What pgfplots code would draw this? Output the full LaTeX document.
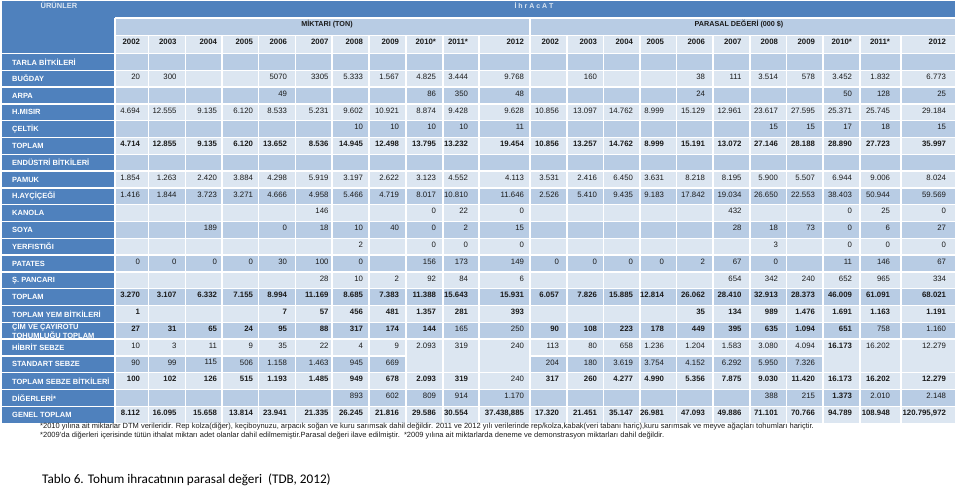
\documentclass[border=0pt]{standalone}
\usepackage{pgfplots}
\pgfplotsset{compat=1.18}
\usepackage{pgfplotstable}
\usepackage{fontspec}
\setmainfont{Liberation Sans}
\newfontfamily\calibri{Carlito}

\definecolor{dk}{HTML}{4F81BD}
\definecolor{md}{HTML}{B8CCE4}
\definecolor{lt}{HTML}{DCE6F1}
\definecolor{txt}{HTML}{1A1A1A}

\newcommand\fd{\fontsize{7.8}{9}\selectfont}
\newcommand\fb{\fontsize{7.8}{9}\selectfont\bfseries}
\newcommand\fl{\fontsize{7.5}{8}\selectfont\bfseries}

\pgfplotsset{celltxt/.style={draw=none, mark=none, forget plot, nodes near coords,
  point meta=explicit symbolic,
  nodes near coords style={anchor=east, inner sep=0pt, outer sep=0pt, text depth=0pt, text=txt, font=#1}}}

\newcommand\bx[5]{\addplot[fill=#5, draw=none, forget plot] coordinates {(#1,#2) (#3,#2) (#3,#4) (#1,#4)};}
\newcommand\hl[3]{\addplot[white, line width=1.3pt, forget plot] coordinates {(#1,#3) (#2,#3)};}
\newcommand\vl[3]{\addplot[white, line width=1.3pt, forget plot] coordinates {(#1,#2) (#1,#3)};}

% full rows: x = right edge of the cell text (px)
\pgfplotstableread{
x     yr    r4     r6     r8    r9     r15    r22
140   2002  4.694  4.714  1.854 1.416  3.270  8.112
176.5 2003  12.555 12.855 1.263 1.844  3.107  16.095
217   2004  9.135  9.135  2.420 3.723  6.332  15.658
253   2005  6.120  6.120  3.884 3.271  7.155  13.814
287   2006  8.533  13.652 4.298 4.666  8.994  23.941
328.5 2007  5.231  8.536  5.919 4.958  11.169 21.335
363   2008  9.602  14.945 3.197 5.466  8.685  26.245
399   2009  10.921 12.498 2.622 4.719  7.383  21.816
436   2010* 8.874  13.795 3.123 8.017  11.388 29.586
468   2011* 9.428  13.232 4.552 10.810 15.643 30.554
524   2012  9.628  19.454 4.113 11.646 15.931 37.438,885
559   2002  10.856 10.856 3.531 2.526  6.057  17.320
597   2003  13.097 13.257 2.416 5.410  7.826  21.451
633   2004  14.762 14.762 6.450 9.435  15.885 35.147
664   2005  8.999  8.999  3.631 9.183  12.814 26.981
705   2006  15.129 15.191 8.218 17.842 26.062 47.093
741.5 2007  12.961 13.072 8.195 19.034 28.410 49.886
778   2008  23.617 27.146 5.900 26.650 32.913 71.101
815   2009  27.595 28.188 5.507 22.553 28.373 70.766
852   2010* 25.371 28.890 6.944 38.403 46.009 94.789
890   2011* 25.745 27.723 9.006 50.944 61.091 108.948
946   2012  29.184 35.997 8.024 59.569 68.021 120.795,972
}\full

\pgfplotstableread{
x r v
140 2 20
176.5 2 300
287 2 5070
328.5 2 3305
363 2 5.333
399 2 1.567
436 2 4.825
468 2 3.444
524 2 9.768
597 2 160
705 2 38
741.5 2 111
778 2 3.514
815 2 578
852 2 3.452
890 2 1.832
946 2 6.773
287 3 49
436 3 86
468 3 350
524 3 48
705 3 24
852 3 50
890 3 128
946 3 25
363 5 10
399 5 10
436 5 10
468 5 10
524 5 11
778 5 15
815 5 15
852 5 17
890 5 18
946 5 15
328.5 10 146
436 10 0
468 10 22
524 10 0
741.5 10 432
852 10 0
890 10 25
946 10 0
217 11 189
287 11 0
328.5 11 18
363 11 10
399 11 40
436 11 0
468 11 2
524 11 15
741.5 11 28
778 11 18
815 11 73
852 11 0
890 11 6
946 11 27
363 12 2
436 12 0
468 12 0
524 12 0
778 12 3
852 12 0
890 12 0
946 12 0
140 13 0
176.5 13 0
217 13 0
253 13 0
287 13 30
328.5 13 100
363 13 0
436 13 156
468 13 173
524 13 149
559 13 0
597 13 0
633 13 0
664 13 0
705 13 2
741.5 13 67
778 13 0
852 13 11
890 13 146
946 13 67
328.5 14 28
363 14 10
399 14 2
436 14 92
468 14 84
524 14 6
741.5 14 654
778 14 342
815 14 240
852 14 652
890 14 965
946 14 334
468 17 165
524 17 250
890 17 758
946 17 1.160
140 18 10
176.5 18 3
217 18 11
253 18 9
287 18 35
328.5 18 22
363 18 4
399 18 9
436 18 2.093
468 18 319
524 18 240
559 18 113
597 18 80
633 18 658
664 18 1.236
705 18 1.204
741.5 18 1.583
778 18 3.080
815 18 4.094
890 18 16.202
946 18 12.279
140 19 90
176.5 19 99
217 19 115
253 19 506
287 19 1.158
328.5 19 1.463
363 19 945
399 19 669
559 19 204
597 19 180
633 19 3.619
664 19 3.754
705 19 4.152
741.5 19 6.292
778 19 5.950
815 19 7.326
524 20 240
363 21 893
399 21 602
436 21 809
468 21 914
524 21 1.170
778 21 388
815 21 215
890 21 2.010
946 21 2.148
}\partreg

\pgfplotstableread{
x r v
140 16 1
287 16 7
328.5 16 57
363 16 456
399 16 481
436 16 1.357
468 16 281
524 16 393
705 16 35
741.5 16 134
778 16 989
815 16 1.476
852 16 1.691
890 16 1.163
946 16 1.191
140 17 27
176.5 17 31
217 17 65
253 17 24
287 17 95
328.5 17 88
363 17 317
399 17 174
436 17 144
559 17 90
597 17 108
633 17 223
664 17 178
705 17 449
741.5 17 395
778 17 635
815 17 1.094
852 17 651
852 18 16.173
140 20 100
176.5 20 102
217 20 126
253 20 515
287 20 1.193
328.5 20 1.485
363 20 949
399 20 678
436 20 2.093
468 20 319
559 20 317
597 20 260
633 20 4.277
664 20 4.990
705 20 5.356
741.5 20 7.875
778 20 9.030
815 20 11.420
852 20 16.173
890 20 16.202
946 20 12.279
852 21 1.373
}\partbold

\begin{document}
\begin{tikzpicture}
\begin{axis}[width=960pt, height=492pt, scale only axis, xmin=0, xmax=960, ymin=0, ymax=492,
  y dir=reverse, hide axis, clip=false, enlargelimits=false]
% backgrounds
\bx{115}{18}{955}{423.1}{lt}
\bx{115}{18}{955}{35.5}{md}
\bx{2}{1}{955}{18}{dk}
\bx{2}{1}{115}{423.1}{dk}
\bx{115}{53.5}{955}{70.3}{md}
\bx{115}{87.1}{955}{103.9}{md}
\bx{115}{120.7}{955}{137.5}{md}
\bx{115}{154.3}{955}{171.1}{md}
\bx{115}{187.9}{955}{204.7}{md}
\bx{115}{221.5}{955}{238.3}{md}
\bx{115}{255.1}{955}{271.9}{md}
\bx{115}{288.7}{955}{305.5}{md}
\bx{115}{322.3}{955}{339.1}{md}
\bx{115}{355.9}{955}{372.7}{md}
\bx{115}{389.5}{955}{406.3}{md}
\bx{406}{339.1}{530}{372.7}{lt}
\bx{823}{339.1}{955}{372.7}{lt}
% grid lines
\hl{115}{955}{18}
\hl{115}{955}{35.5}
\pgfplotsinvokeforeach{53.5,70.3,87.1,103.9,120.7,137.5,154.3,171.1,187.9,204.7,221.5,238.3,255.1,271.9,288.7,305.5,322.3,339.1,372.7,389.5,406.3}{\hl{2}{955}{#1}}
\hl{2}{406}{355.9}
\hl{530}{823}{355.9}
\vl{115}{18}{423.1}
\vl{530}{18}{423.1}
\pgfplotsinvokeforeach{148.5,185.5,222,258.5,295.5,332,369,406,443,479,567,603.5,640,676.5,713,750,786.5,823,860,901}{\vl{#1}{35.5}{423.1}}
% numbers
\addplot[celltxt=\fb] table[x=x, y expr=42, meta=yr] {\full};
\addplot[celltxt=\fd] table[x=x, y expr=110.3, meta=r4] {\full};
\addplot[celltxt=\fb] table[x=x, y expr=143.9, meta=r6] {\full};
\addplot[celltxt=\fd] table[x=x, y expr=177.5, meta=r8] {\full};
\addplot[celltxt=\fd] table[x=x, y expr=194.3, meta=r9] {\full};
\addplot[celltxt=\fb] table[x=x, y expr=295.1, meta=r15] {\full};
\addplot[celltxt=\fb] table[x=x, y expr=412.7, meta=r22] {\full};
\addplot[celltxt=\fd] table[x=x, y expr={53.5+16.8*(\thisrow{r}-0.5)-2}, meta=v] {\partreg};
\addplot[celltxt=\fb] table[x=x, y expr={53.5+16.8*(\thisrow{r}-0.5)-2}, meta=v] {\partbold};
% header texts
\node[font=\fontsize{7.5}{8}\selectfont\bfseries, text=lt] at (axis cs:59,5) {ÜRÜNLER};
\node[font=\fontsize{7}{8}\selectfont\bfseries, text=lt] at (axis cs:534,5.5) {İ h r A c A T};
\node[font=\fontsize{7.2}{8}\selectfont\bfseries, text=txt] at (axis cs:327,24) {MİKTARI (TON)};
\node[font=\fontsize{7.2}{8}\selectfont\bfseries, text=txt] at (axis cs:739,24) {PARASAL DEĞERİ (000 \$)};
% row labels
\begin{scope}[every node/.style={anchor=west, font=\fl, text=white, inner sep=0pt}]
\node at (axis cs:12,61.9) {TARLA BİTKİLERİ};
\node at (axis cs:12,78.7) {BUĞDAY};
\node at (axis cs:12,95.5) {ARPA};
\node at (axis cs:12,112.3) {H.MISIR};
\node at (axis cs:12,129.1) {ÇELTİK};
\node at (axis cs:12,145.9) {TOPLAM};
\node at (axis cs:12,162.7) {ENDÜSTRİ BİTKİLERİ};
\node at (axis cs:12,179.5) {PAMUK};
\node at (axis cs:12,196.3) {H.AYÇİÇEĞİ};
\node at (axis cs:12,213.1) {KANOLA};
\node at (axis cs:12,229.9) {SOYA};
\node at (axis cs:12,246.7) {YERFISTIĞI};
\node at (axis cs:12,263.5) {PATATES};
\node at (axis cs:12,280.3) {Ş. PANCARI};
\node at (axis cs:12,297.1) {TOPLAM};
\node at (axis cs:12,313.9) {TOPLAM YEM BİTKİLERİ};
\node at (axis cs:12,327) {ÇİM VE ÇAYIROTU};
\node at (axis cs:12,335.5) {TOHUMLUĞU TOPLAM};
\node at (axis cs:12,347.5) {HİBRİT SEBZE};
\node at (axis cs:12,364.3) {STANDART SEBZE};
\node at (axis cs:12,381.1) {TOPLAM SEBZE BİTKİLERİ};
\node at (axis cs:12,397.9) {DİĞERLERİ*};
\node at (axis cs:12,414.7) {GENEL TOPLAM};
\end{scope}
% footnotes and caption
\node[anchor=west, inner sep=0pt, font=\fontsize{7.5}{8}\selectfont, text=txt] at (axis cs:40,426.5) {*2010 yılına ait miktarlar DTM verileridir. Rep kolza(diğer), keçiboynuzu, arpacık soğan ve kuru sarımsak dahil değildir. 2011 ve 2012 yılı verilerinde rep/kolza,kabak(veri tabanı hariç),kuru sarımsak ve meyve ağaçları tohumları hariçtir.};
\node[anchor=west, inner sep=0pt, font=\fontsize{7.5}{8}\selectfont, text=txt] at (axis cs:40,436) {*2009'da diğerleri içerisinde tütün ithalat miktarı adet olanlar dahil edilmemiştir.Parasal değeri ilave edilmiştir.\ \ *2009 yılına ait miktarlarda deneme ve demonstrasyon miktarları dahil değildir.};
\node[anchor=west, inner sep=0pt, font=\calibri\fontsize{13.2}{15}\selectfont, text=black] at (axis cs:42,480) {Tablo 6. Tohum ihracatının parasal değeri\ \ (TDB, 2012)};
\end{axis}
\pgfresetboundingbox
\path (current axis.south west) rectangle (current axis.north east);
\end{tikzpicture}
\end{document}
